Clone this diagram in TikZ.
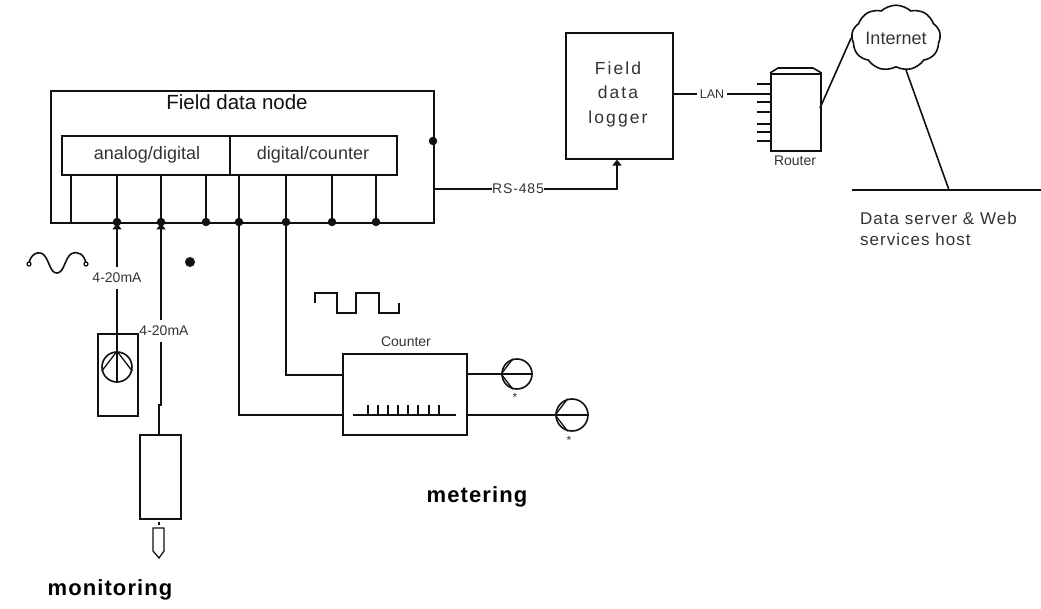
\documentclass[tikz,border=0pt]{standalone}
\usepackage{fontspec}
\setmainfont{Liberation Sans}
\usepackage{xcolor}
\usetikzlibrary{positioning,arrows.meta,shapes.symbols}
\definecolor{ink}{HTML}{111111}
\definecolor{txt}{HTML}{333333}
\tikzset{
  wire/.style   = {draw=ink, line width=1.6pt},
  thinwire/.style = {draw=ink, line width=1.3pt},
  box/.style    = {rectangle, draw=ink, line width=1.6pt, fill=white, inner sep=0pt, anchor=north west},
  lbl/.style    = {font=\fontsize{14}{16}\selectfont, text=txt, inner sep=0pt},
  big/.style    = {font=\fontsize{18}{20}\selectfont, text=txt, inner sep=0pt},
  wide/.style   = {font=\fontsize{17.5}{24.5}\addfontfeature{LetterSpace=12}\selectfont, text=txt, inner sep=0pt, align=center},
  head/.style   = {font=\bfseries\fontsize{22}{24}\addfontfeature{LetterSpace=5}\selectfont, text=black, inner sep=0pt},
  joint/.style  = {circle, fill=ink, inner sep=0pt, minimum size=8.5pt},
  meter/.style  = {circle, draw=ink, line width=1.6pt, inner sep=0pt, minimum size=30pt},
  flow/.style   = {-{Triangle[length=6pt,width=9pt]}, wire},
}
\begin{document}
\begin{tikzpicture}[x=1pt,y=-1pt]
  \useasboundingbox (0,0) rectangle (1041,609);

  % field data node
  \node[box, minimum width=383pt, minimum height=132pt] (fdn) at (50,90) {};
  \node[lbl, font=\fontsize{20.5}{22}\selectfont, text=ink] (fdnlabel) at (237,102) {Field data node};
  \node[box, minimum width=168pt, minimum height=39pt] (ad) at (61,135) {};
  \node[box, minimum width=167pt, minimum height=39pt] (dc) at (229,135) {};
  \node[big] (adlabel) at (147,155) {analog/digital};
  \node[big] (dclabel) at (313,155) {digital/counter};

  % bus joints and the lines up to the two modules
  \foreach \name/\xx in {j1/117,j2/161,j3/206,j4/239,j5/286,j6/332,j7/376}
    \node[joint] (\name) at (\xx,222) {};
  \coordinate (j0) at (71,222);
  \foreach \name/\xx in {t0/71,t1/117,t2/161,t3/206,t4/239,t5/286,t6/332,t7/376}
    \coordinate (\name) at (\xx,174);
  \foreach \i in {0,...,7}
    \draw[wire] (t\i) -- (j\i);
  \node[joint] (rsjoint) at (433,141) {};

  % monitoring side
  \node[box, minimum width=40pt, minimum height=82pt] (loop) at (97,333) {};
  \node[meter] (pump) at (117,367) {};
  \node[lbl, outer ysep=6pt] (ma1) at (117,278) {4-20mA};
  \node[lbl, outer ysep=6pt] (ma2) at (164,331) {4-20mA};
  \draw[flow, shorten >=-3pt] (ma1) -- (j1);
  \draw[flow, shorten >=-3pt] (ma2.north -| j2) -- (j2);
  \draw[wire] (ma1.south) -- (pump.south);
  \draw[thinwire] (pump.north) -- (pump.195);
  \draw[thinwire] (pump.north) -- (pump.-15);
  \node[box, minimum width=41pt, minimum height=84pt] (probe) at (139,434) {};
  \coordinate (jog) at (161,405);
  \draw[wire] (ma2.south -| jog) -- (jog) -- ++(-2,0) -- (probe.north -| 159,0);
  \coordinate (stub) at (159,525);
  \draw[wire] (probe.south -| stub) ++(0,2) -- (stub);
  \draw[thinwire] (153,528) -- (164,528) -- (164,551) -- (159,558) -- (153,551) -- cycle;
  \node[joint, minimum size=10pt] (dot) at (190,262) {};
  \node[head] (monitoring) at (110,590) {monitoring};

  % wave
  \coordinate (wavea) at (29,264);
  \coordinate (waveb) at (86,264);
  \draw[wire] (wavea) .. controls (30,254) and (39,250) .. (44,255) .. controls (50,262) and (50,273) .. (57,273)
     .. controls (64,273) and (65,258) .. (71,254) .. controls (78,250) and (85,255) .. (waveb);
  \foreach \p in {wavea,waveb} \node[circle, draw=ink, line width=1.2pt, fill=white, inner sep=0pt, minimum size=4pt] at (\p) {};

  % pulse
  \draw[wire] (315,303) |- (337,293) |- (356,313) |- (379,293) |- (399,313) -- (399,303);

  % counter
  \node[box, minimum width=124pt, minimum height=81pt] (counter) at (342,353) {};
  \node[lbl] (counterlabel) at (406,342) {Counter};
  \draw[wire] (j5) |- (counter.west |- 0,375);
  \draw[wire] (j4) |- (counter.west |- 0,415);
  \draw[wire] (353,415) -- (456,415);
  \foreach \xx in {368,378,388,398,408,418,429,439}
    \draw[wire] (\xx,415) -- (\xx,405);
  \node[meter] (m1) at (517,374) {};
  \node[meter, minimum size=32pt] (m2) at (572,415) {};
  \draw[wire] (counter.east |- m1) -- (m1.east);
  \draw[wire] (counter.east |- m2) -- (m2.east);
  \foreach \m in {m1,m2} {
    \draw[thinwire] (\m.west) -- (\m.105);
    \draw[thinwire] (\m.west) -- (\m.-105);
  }
  \node[lbl, font=\fontsize{12}{14}\selectfont] (star1) at (515,397) {*};
  \node[lbl, font=\fontsize{12}{14}\selectfont] (star2) at (569,440) {*};
  \node[head] (metering) at (477,497) {metering};

  % logger
  \node[box, minimum width=107pt, minimum height=126pt] (logger) at (565,32) {};
  \node[wide] (loggerlabel) at (618,94) {Field\\data\\logger};
  \node[lbl, font=\fontsize{14}{16}\addfontfeature{LetterSpace=6}\selectfont] (rslabel) at (518,189) {RS-485};
  \coordinate (rsout) at (433,189);
  \draw[wire] (rsout) -- (rslabel);
  \draw[flow] (rslabel) -| (logger.south -| 617,0);

  % router
  \node[box, minimum width=50pt, minimum height=77pt] (router) at (770,73) {};
  \draw[wire] (router.north west) -- (778,68) -- (813,68) -- (router.north east);
  \foreach \yy in {84,102,112,124,132,141}
    \draw[wire] (757,\yy) -- (770,\yy);
  \node[lbl] (routerlabel) at (795,161) {Router};
  \node[lbl, font=\fontsize{12.5}{14}\selectfont, outer xsep=3pt] (lanlabel) at (712,94) {LAN};
  \draw[wire] (logger.east |- lanlabel) -- (lanlabel);
  \draw[wire] (lanlabel) -- (router.west |- lanlabel);

  % internet
  \node[cloud, cloud puffs=9, cloud puff arc=85, aspect=1.5, draw=ink, line width=1.6pt, minimum width=76pt, minimum height=52pt, inner sep=0pt, font=\fontsize{18}{20}\selectfont, text=txt] (internet) at (896,38) {Internet};
  \coordinate (routerout) at (820,108);
  \draw[wire] (routerout) -- (internet.west);

  % server
  \coordinate (srva) at (852,190);
  \coordinate (srvb) at (1041,190);
  \coordinate (srvc) at (949,190);
  \draw[wire] (srva) -- (srvb);
  \draw[wire] (906,70) -- (srvc);
  \node[wide, font=\fontsize{17}{21}\addfontfeature{LetterSpace=6}\selectfont, anchor=north west, align=left] (srvlabel) at (860,212) {Data server \& Web\\services host};
\end{tikzpicture}
\end{document}
